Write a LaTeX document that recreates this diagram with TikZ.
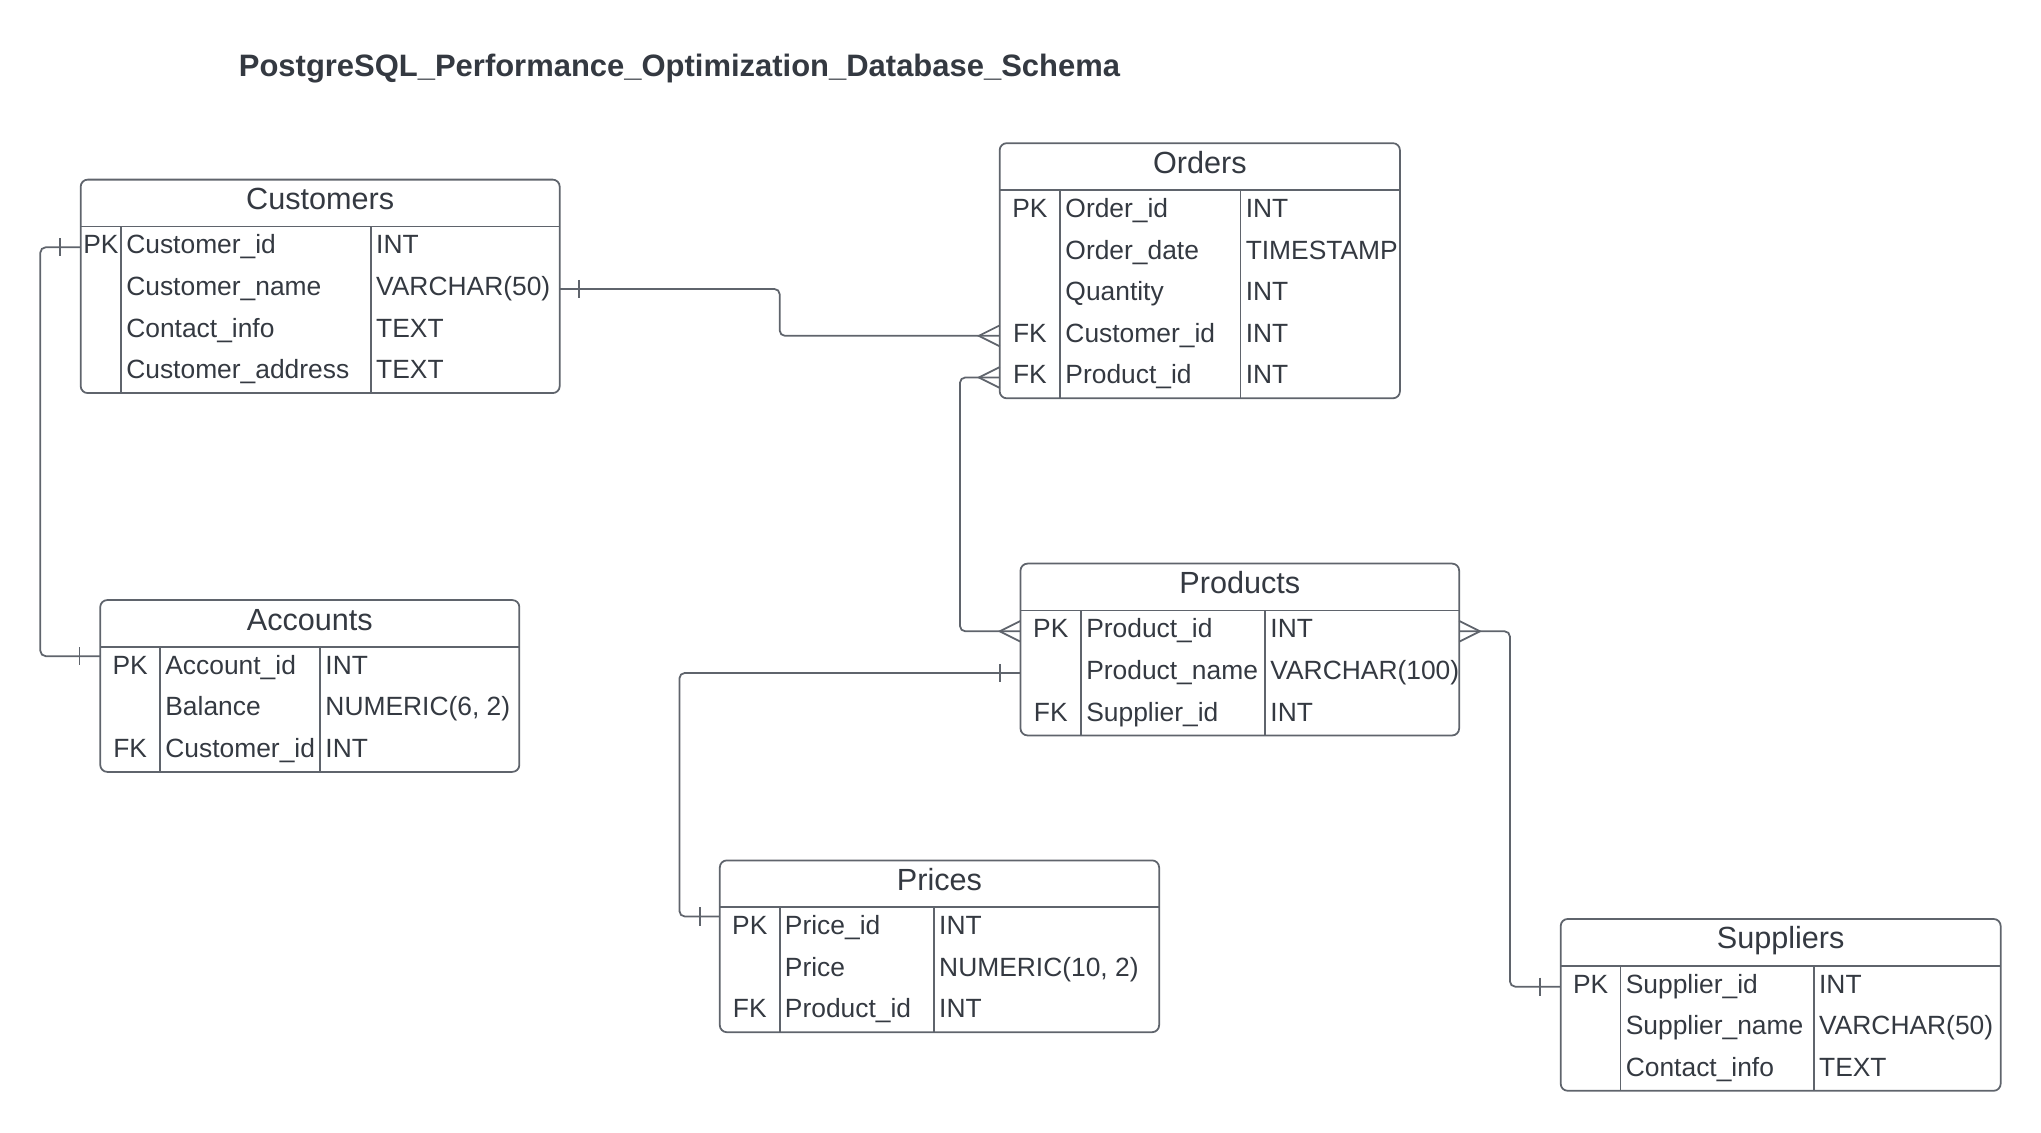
\documentclass[tikz,border=0pt]{standalone}
\usepackage{fontspec}
\setmainfont{Liberation Sans}

\definecolor{linec}{RGB}{95,100,108}
\definecolor{textc}{RGB}{52,57,65}

\tikzset{
  tablebox/.style={draw=linec, line width=0.5pt, rounded corners=2pt},
  tableline/.style={draw=linec, line width=0.5pt},
  conn/.style={draw=linec, line width=0.5pt, rounded corners=1.5pt},
  markline/.style={draw=linec, line width=0.5pt},
  celltext/.style={text=textc, inner sep=0pt, font=\fontsize{7.5}{9}\selectfont},
  headtext/.style={text=textc, inner sep=0pt, font=\fontsize{8.7}{10}\selectfont},
  titletext/.style={text=textc, inner sep=0pt, font=\fontsize{8.8}{10}\selectfont\bfseries}
}

% name, left, top, key col, type col, right, title, rows
\newcommand\erdtable[8]{%
  \pgfmathsetmacro\hl{#3+36}
  \foreach \rk/\rn/\rt [count=\i] in {#8}{
    \pgfmathsetmacro\by{\hl+21+32*(\i-1)}
    \node[celltext, anchor=base] (#1-k\i) at ({(#2+#4)/2},\by) {\rk};
    \node[celltext, anchor=base west] (#1-n\i) at (#4+3.5,\by) {\rn};
    \node[celltext, anchor=base west] (#1-t\i) at (#5+3.5,\by) {\rt};
    \coordinate (#1-w\i) at (#2,\by-5);
    \coordinate (#1-e\i) at (#6,\by-5);
    \xdef\nrows{\i}
  }
  \pgfmathsetmacro\bt{\hl+32*\nrows}
  \draw[tablebox] (#2,#3) rectangle (#6,\bt);
  \draw[tableline] (#2,\hl) -- (#6,\hl);
  \draw[tableline] (#4,\hl) -- (#4,\bt);
  \draw[tableline] (#5,\hl) -- (#5,\bt);
  \node[headtext, anchor=base] (#1) at ({(#2+#6)/2},#3+23) {#7};
}
% one-mark and many-mark
\newcommand\erbar[2]{\draw[markline] (#1) ++(#2,-7) -- ++(0,14);}
\newcommand\ercrow[2]{\draw[markline] (#1) ++(0,-8) -- ++({16*#2},8) -- ++({-16*#2},8);}

\begin{document}
\begin{tikzpicture}[x=0.013cm, y=-0.013cm]
\useasboundingbox (0,0) rectangle (1568,870);

\node[titletext, anchor=base west] (title) at (183,58.5) {PostgreSQL\_Performance\_Optimization\_Database\_Schema};

\erdtable{cust}{62}{138}{93}{285}{430}{Customers}{PK/Customer\_id/INT, /Customer\_name/VARCHAR(50), /Contact\_info/TEXT, /Customer\_address/TEXT}
\erdtable{ord}{768}{110}{814.5}{953}{1075.5}{Orders}{PK/Order\_id/INT, /Order\_date/TIMESTAMP, /Quantity/INT, FK/Customer\_id/INT, FK/Product\_id/INT}
\erdtable{acc}{77}{461}{123}{246}{399}{Accounts}{PK/Account\_id/INT, /Balance/{NUMERIC(6, 2)}, FK/Customer\_id/INT}
\erdtable{prod}{784}{433}{830.5}{972}{1121}{Products}{PK/Product\_id/INT, /Product\_name/VARCHAR(100), FK/Supplier\_id/INT}
\erdtable{prc}{553}{661}{599}{717.5}{890.5}{Prices}{PK/Price\_id/INT, /Price/{NUMERIC(10, 2)}, FK/Product\_id/INT}
\erdtable{sup}{1199}{706}{1245}{1393.5}{1537}{Suppliers}{PK/Supplier\_id/INT, /Supplier\_name/VARCHAR(50), /Contact\_info/TEXT}

% relations
\draw[conn] (cust-e2) -- ++(169,0) |- (ord-w4);
\draw[conn] (cust-w1) -- ++(-31,0) |- ([yshift=3.3pt]acc-w1);
\draw[conn] (ord-w5) -- ++(-30.5,0) |- (prod-w1);
\draw[conn] (prod-w2) -- ++(-262,0) |- ([yshift=3.3pt]prc-w1);
\draw[conn] (prod-e1) -- ++(39,0) |- (sup-w1);

\erbar{cust-e2}{15}
\erbar{cust-w1}{-16}
\erbar{[yshift=3.3pt]acc-w1}{-16}
\erbar{prod-w2}{-16}
\erbar{[yshift=3.3pt]prc-w1}{-15.5}
\erbar{sup-w1}{-16}
\ercrow{ord-w4}{-1}
\ercrow{ord-w5}{-1}
\ercrow{prod-w1}{-1}
\ercrow{prod-e1}{1}
\end{tikzpicture}
\end{document}
